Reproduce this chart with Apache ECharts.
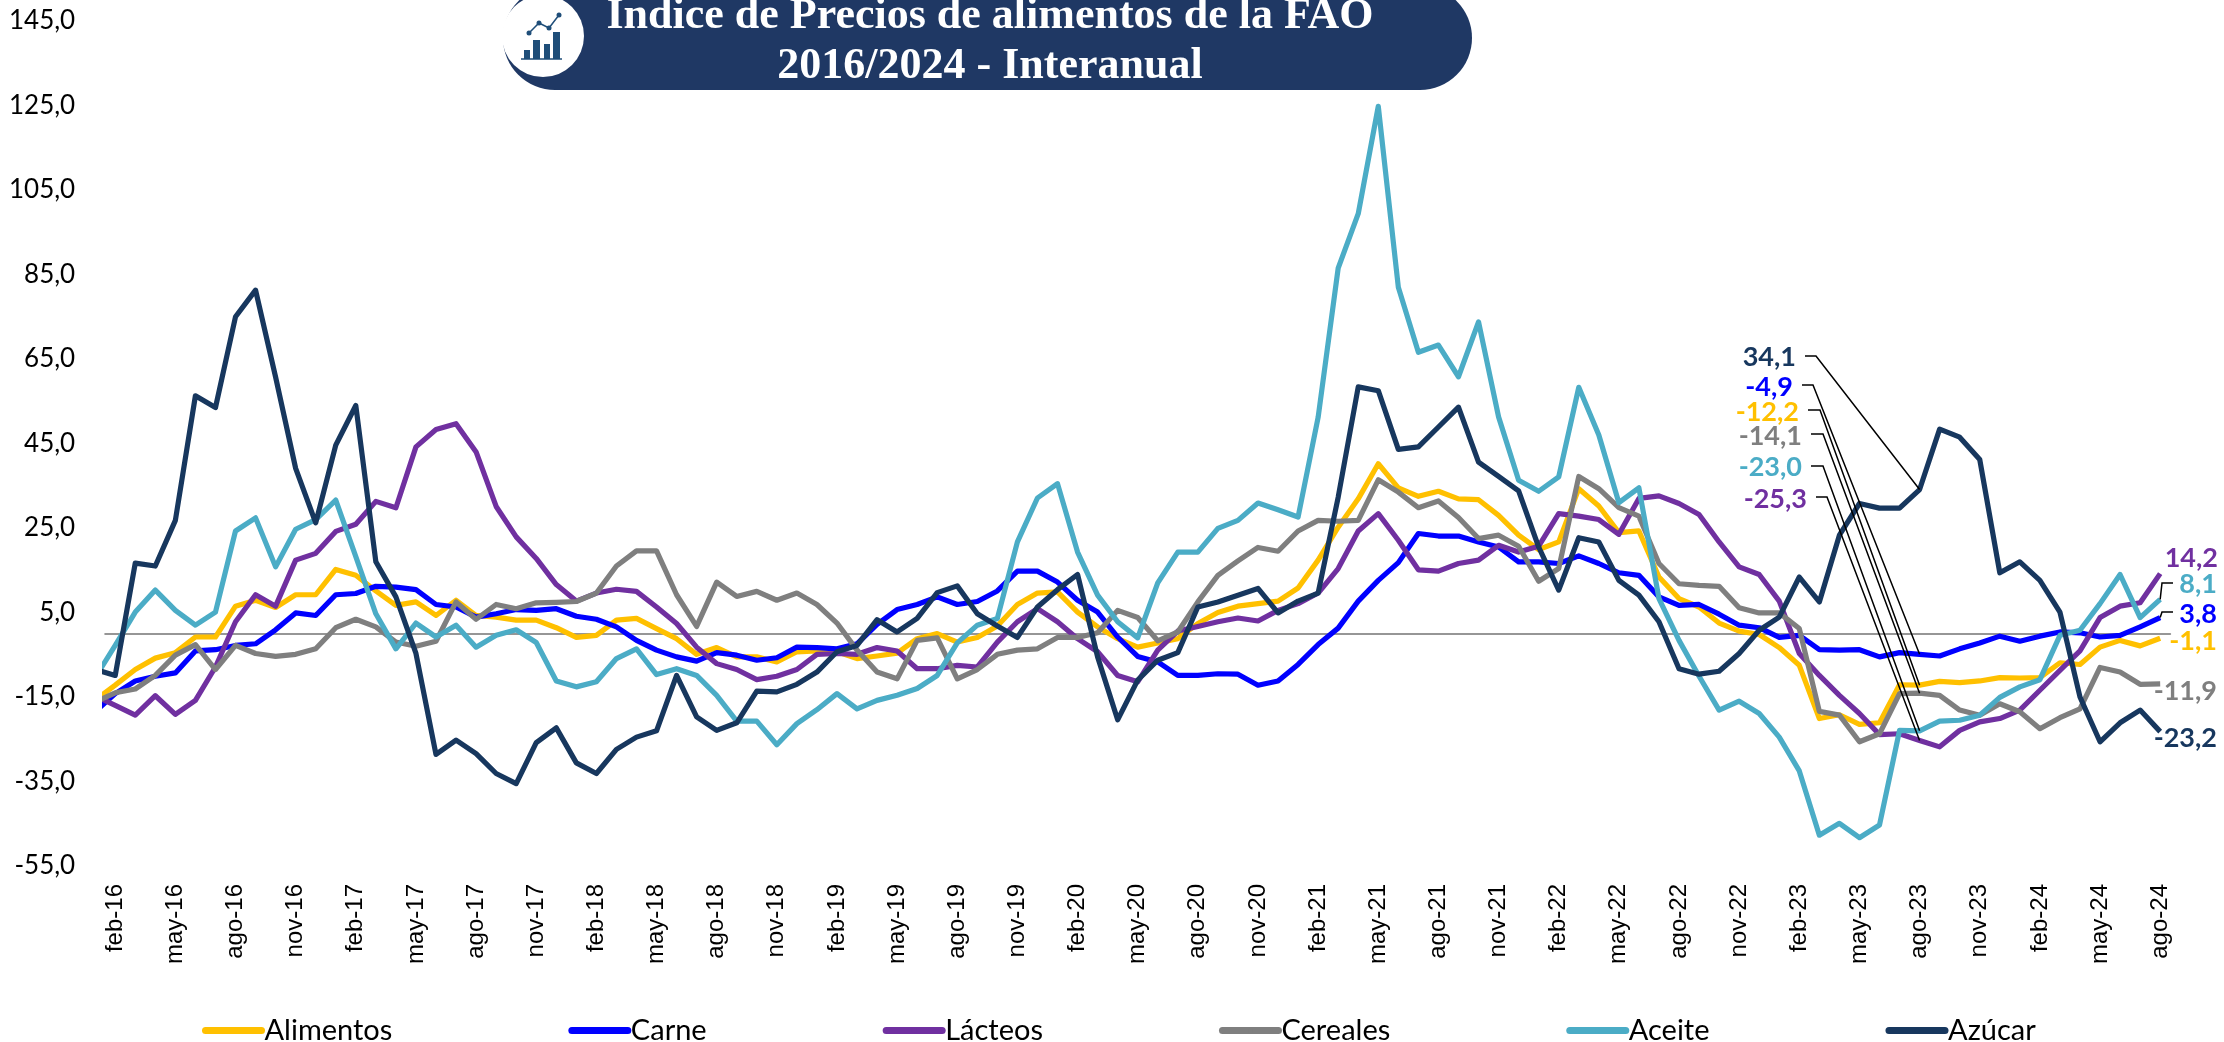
<!DOCTYPE html>
<html>
<head>
<meta charset="utf-8">
<title>Indice de Precios de alimentos de la FAO</title>
<script src="https://cdn.jsdelivr.net/npm/echarts@6/dist/echarts.min.js"></script>
<style>
  html, body { margin: 0; padding: 0; background: #fff; }
  #chart { width: 2224px; height: 1042px; }
</style>
</head>
<body>
<div id="chart"></div>
<script>
// meses: el primero (ene-16) queda cortado por el borde izquierdo del gráfico
var months = ['ene-16',
  'feb-16','mar-16','abr-16','may-16','jun-16','jul-16','ago-16','sep-16','oct-16','nov-16','dic-16',
  'ene-17','feb-17','mar-17','abr-17','may-17','jun-17','jul-17','ago-17','sep-17','oct-17','nov-17','dic-17',
  'ene-18','feb-18','mar-18','abr-18','may-18','jun-18','jul-18','ago-18','sep-18','oct-18','nov-18','dic-18',
  'ene-19','feb-19','mar-19','abr-19','may-19','jun-19','jul-19','ago-19','sep-19','oct-19','nov-19','dic-19',
  'ene-20','feb-20','mar-20','abr-20','may-20','jun-20','jul-20','ago-20','sep-20','oct-20','nov-20','dic-20',
  'ene-21','feb-21','mar-21','abr-21','may-21','jun-21','jul-21','ago-21','sep-21','oct-21','nov-21','dic-21',
  'ene-22','feb-22','mar-22','abr-22','may-22','jun-22','jul-22','ago-22','sep-22','oct-22','nov-22','dic-22',
  'ene-23','feb-23','mar-23','abr-23','may-23','jun-23','jul-23','ago-23','sep-23','oct-23','nov-23','dic-23',
  'ene-24','feb-24','mar-24','abr-24','may-24','jun-24','jul-24','ago-24'];
var monthTicks = [1,4,7,10,13,16,19,22,25,28,31,34,37,40,43,46,49,52,55,58,61,64,67,70,73,76,79,82,85,88,91,94,97,100,103];
var valueTicks = [-55,-35,-15,5,25,45,65,85,105,125,145];

var alimentos = [-15.7,-12.2,-8.5,-5.8,-4.5,-0.8,-0.8,6.5,7.9,6.2,9.2,9.2,15.2,13.8,10.1,6.7,7.5,4.3,7.9,4.3,3.9,3.2,3.2,1.4,-0.9,-0.4,3.2,
  3.6,1.2,-1.2,-4.9,-3.3,-5.5,-5.5,-6.7,-4.3,-4.1,-4.3,-5.9,-5.3,-4.6,-1.2,0,-2,-0.9,1.8,6.9,9.6,9.9,5.1,1.6,-1.2,-3.2,
  -2.2,-1.2,2.4,5,6.5,7.1,7.7,10.8,17.4,25.2,31.9,40.2,34.5,32.5,33.7,31.9,31.7,28,23.3,19.9,21.7,34.3,30.2,23.9,24.3,13.4,
  8.3,6.3,2.5,0.6,-0.2,-3.3,-7.5,-20.1,-19.2,-21.5,-21.1,-12.1,-12.2,-11.3,-11.6,-11.2,-10.4,-10.5,-10.4,-6.9,-7.3,-3.2,-1.6,-2.9,-1.1];
var carne = [-18.5,-14.2,-11.2,-10.1,-9.3,-4.1,-3.8,-2.8,-2.4,0.9,4.9,4.3,9.2,9.5,11.2,11,10.4,6.9,6.3,3.9,4.7,5.7,5.5,5.9,4.1,3.4,1.6,
  -1.6,-3.9,-5.5,-6.5,-4.5,-5.1,-6.3,-5.7,-3.2,-3.3,-3.6,-2.4,2.2,5.7,6.9,8.7,6.9,7.6,10.1,14.8,14.8,12.2,7.9,5.1,-0.8,-5.4,
  -6.7,-9.9,-9.9,-9.5,-9.6,-12.2,-11.2,-7.3,-2.6,1.3,7.7,12.6,16.8,23.7,23.1,23.1,21.7,20.5,17,17,16.6,18.4,16.6,14.4,13.8,8.7,
  6.7,6.9,4.6,2,1.4,-0.9,-0.4,-3.8,-3.9,-3.8,-5.5,-4.5,-4.9,-5.3,-3.6,-2.2,-0.6,-1.8,-0.6,0.4,0.2,-0.8,-0.4,1.6,3.8];
var lacteos = [-14.7,-17,-19.3,-14.7,-19.1,-15.8,-7.9,2.8,9.2,6.5,17.4,19,24.2,25.9,31.3,29.8,44.2,48.3,49.7,43,30.1,22.9,17.8,11.6,7.7,9.6,10.5,
  10,6.3,2.4,-3.2,-7.1,-8.5,-10.9,-10.1,-8.5,-4.9,-4.7,-4.9,-3.3,-4.1,-8.3,-8.3,-7.5,-7.9,-2,2.8,5.9,2.8,-1.2,-4.3,-9.9,-11.4,
  -3.9,0.6,1.7,2.8,3.7,3,5.5,7.1,9.6,15.4,24.3,28.4,22.1,15.1,14.8,16.6,17.4,20.9,19.3,20.7,28.4,27.8,27,23.5,32,32.6,
  30.8,28.2,21.7,15.8,14,7.7,-4.7,-9.9,-14.6,-18.9,-23.9,-23.7,-25.3,-26.8,-22.9,-20.9,-20.1,-18.1,-13.4,-8.7,-4.1,3.8,6.5,7.3,14.2];
var cereales = [-16.2,-14,-13.1,-9.9,-5.1,-2.6,-8.5,-2.8,-4.7,-5.4,-4.9,-3.6,1.4,3.4,1.6,-2,-3,-1.8,7.5,3.4,6.9,5.9,7.3,7.4,7.6,9.6,16,
  19.6,19.6,9.2,1.7,12.2,8.8,10,7.9,9.6,6.9,2.5,-3.9,-9.1,-10.7,-1.6,-1,-10.7,-8.5,-4.9,-3.9,-3.6,-0.9,-0.9,0.2,5.5,3.8,
  -1.7,0.4,7.5,13.8,17.2,20.4,19.5,24.3,26.8,26.6,26.8,36.4,33.5,29.8,31.4,27.5,22.5,23.3,20.7,12.4,15.4,37.2,34.3,29.8,27.8,16.6,
  11.8,11.4,11.2,6.1,4.9,4.9,1.2,-18.4,-19.3,-25.6,-23.7,-14.2,-14.1,-14.6,-18.1,-19.3,-16.6,-18.5,-22.5,-19.9,-17.8,-8,-9.1,-12,-11.9];
var aceite = [-10.4,-2.8,5.1,10.3,5.5,2,5.1,24.3,27.4,15.8,24.7,27,31.6,18.2,4.7,-3.6,2.5,-0.8,2,-3.2,-0.4,0.9,-2.1,-11.2,-12.6,-11.4,-5.9,
  -3.6,-9.7,-8.3,-9.9,-14.6,-20.7,-20.7,-26.3,-21.3,-18,-14.2,-17.8,-15.8,-14.6,-13,-9.9,-2.2,2,3.6,21.7,32.1,35.5,19.3,9.1,2.8,-1,
  12,19.3,19.3,24.9,26.8,30.9,29.3,27.6,51.2,86.5,99.4,124.8,82,66.6,68.3,60.8,73.8,51.3,36.3,33.7,37.1,58.3,47,31,34.5,8.3,
  -1.6,-10.1,-18.1,-16,-18.9,-24.5,-32.5,-47.7,-44.9,-48.3,-45.3,-22.9,-23,-20.7,-20.5,-19.3,-15.1,-12.6,-10.9,-0.4,0.8,7.1,14,3.8,8.1];
var azucar = [-8.5,-9.9,16.7,16,26.8,56.3,53.5,75,81.3,60.7,39.1,26.2,44.6,54,17,8.7,-4.7,-28.6,-25.2,-28.4,-33.1,-35.5,-25.8,-22.3,-30.6,-33.1,-27.4,
  -24.5,-23,-9.9,-19.7,-22.9,-21.1,-13.6,-13.8,-12,-9.1,-4.3,-2.8,3.3,0.4,3.6,9.7,11.3,4.7,1.8,-0.9,6.3,10.4,14,-5.5,-20.4,-11,
  -6.3,-4.5,6.3,7.5,9.1,10.7,4.9,7.7,9.6,32.3,58.4,57.5,43.6,44.2,48.9,53.6,40.6,37.2,33.8,20.5,10.3,22.7,21.7,12.6,9.1,2.8,
  -8.3,-9.6,-8.9,-4.7,0.8,3.9,13.4,7.5,23.3,30.8,29.7,29.7,34.1,48.4,46.5,41.2,14.4,17,12.6,5.1,-15,-25.6,-21.1,-18.1,-23.2];

var names = ['Alimentos', 'Carne', 'Lácteos', 'Cereales', 'Aceite', 'Azúcar'];
var values = [alimentos, carne, lacteos, cereales, aceite, azucar];
var colors = ['#FFC000', '#0000FF', '#7030A0', '#7F7F7F', '#4BACC6', '#17375E'];

var agoIdx = months.indexOf('ago-23');
var lastIdx = months.length - 1;

// donde va cada etiqueta: x derecha, y centro (por serie)
var labelAgo = [[1799, 412], [1793, 387], [1807, 499], [1802, 436], [1802, 467], [1796, 357]];
var labelLast = [[2217, 641], [2217, 614], [2218, 558], [2217, 691], [2217, 584], [2217, 738]];
// guías: de la etiqueta al punto
var leaders = [
  { s: 5, idx: agoIdx, path: [[1805, 356], [1816, 356]] },
  { s: 1, idx: agoIdx, path: [[1802, 385], [1813, 385]] },
  { s: 0, idx: agoIdx, path: [[1808, 410], [1820, 410]] },
  { s: 3, idx: agoIdx, path: [[1811, 434], [1823, 434]] },
  { s: 4, idx: agoIdx, path: [[1811, 466], [1823, 466]] },
  { s: 2, idx: agoIdx, path: [[1816, 497], [1827, 497]] },
  { s: 4, idx: lastIdx, path: [[2173, 583], [2162, 583]] },
  { s: 1, idx: lastIdx, path: [[2173, 612], [2162, 612]] }
];

function comma(v) {
  return v.toFixed(1).replace('.', ',');
}

var series = names.map(function (name, s) {
  return {
    name: name,
    type: 'line',
    symbol: 'none',
    z: 2 + s,
    lineStyle: { color: colors[s], width: 5.2, join: 'round' },
    itemStyle: { color: colors[s] },
    emphasis: { disabled: true },
    data: values[s].map(function (v, i) {
      var item = { value: [i, v] };
      if (i === agoIdx || i === lastIdx) {
        // punto invisible, solo para sostener la etiqueta
        item.symbol = 'circle';
        item.symbolSize = 0;
        item.label = {
          show: true,
          color: colors[s],
          fontFamily: 'Lato',
          fontWeight: 'bold',
          fontSize: 27,
          formatter: comma(v)
        };
      }
      return item;
    }),
    labelLayout: function (params) {
      var p = params.dataIndex === agoIdx ? labelAgo[s] : labelLast[s];
      return { x: p[0], y: p[1], align: 'right', verticalAlign: 'middle' };
    }
  };
});

var myChart = echarts.init(document.getElementById('chart'));

var option = {
  animation: false,
  backgroundColor: '#ffffff',
  title: {
    text: 'Indice de Precios de alimentos de la FAO\n2016/2024 - Interanual',
    left: 985,
    top: -13,
    textAlign: 'center',
    textStyle: {
      color: '#ffffff',
      fontFamily: 'Liberation Serif',
      fontWeight: 'bold',
      fontSize: 44,
      lineHeight: 50
    }
  },
  legend: {
    data: names,
    left: 197,
    top: 1011,
    itemWidth: 56,
    itemHeight: 6,
    itemGap: 176,
    lineStyle: { width: 7, cap: 'round' },
    textStyle: { fontFamily: 'Lato', fontSize: 29, color: '#000000', padding: [0, 0, 0, -2] }
  },
  grid: { left: 105.2, right: 53.8, top: 21, bottom: 176 },
  xAxis: [
    {
      type: 'value',
      min: 0.5,
      max: 103.5,
      axisLine: { show: false, onZero: false },
      axisTick: { show: false },
      splitLine: { show: false },
      axisLabel: {
        customValues: monthTicks,
        rotate: 90,
        margin: 18,
        color: '#000000',
        fontFamily: 'Liberation Sans',
        fontSize: 24,
        formatter: function (v) { return months[v]; }
      }
    },
    {
      type: 'value',
      min: 0.5,
      max: 103.5,
      axisLine: { show: true, onZero: true, lineStyle: { color: '#969696', width: 2 } },
      axisTick: { show: false },
      splitLine: { show: false },
      axisLabel: { show: false }
    }
  ],
  yAxis: {
    type: 'value',
    min: -55,
    max: 145,
    axisLine: { show: false },
    axisTick: { show: false },
    splitLine: { show: false },
    axisLabel: {
      customValues: valueTicks,
      margin: 30,
      color: '#000000',
      fontFamily: 'Lato',
      fontSize: 26,
      formatter: comma
    }
  },
  series: series,
  graphic: [
    { type: 'rect', z: 1, shape: { x: 503, y: -14, width: 969, height: 104, r: 52 }, style: { fill: '#1F3864' } },
    { type: 'circle', z: 1, shape: { cx: 543, cy: 36, r: 41 }, style: { fill: '#ffffff' } },
    { type: 'rect', z: 1, shape: { x: 524, y: 50, width: 6, height: 9 }, style: { fill: '#1F4E79' } },
    { type: 'rect', z: 1, shape: { x: 533, y: 40, width: 7, height: 19 }, style: { fill: '#1F4E79' } },
    { type: 'rect', z: 1, shape: { x: 544, y: 44, width: 6, height: 15 }, style: { fill: '#1F4E79' } },
    { type: 'rect', z: 1, shape: { x: 553, y: 32, width: 7, height: 27 }, style: { fill: '#1F4E79' } },
    { type: 'line', z: 1, shape: { x1: 521, y1: 59, x2: 562, y2: 59 }, style: { stroke: '#1F4E79', lineWidth: 1.5 } },
    { type: 'polyline', z: 1, shape: { points: [[529, 33], [539, 23], [549, 28], [559, 15]] }, style: { stroke: '#1F4E79', fill: null, lineWidth: 1.5 } },
    { type: 'circle', z: 1, shape: { cx: 529, cy: 33, r: 2.5 }, style: { fill: '#1F4E79' } },
    { type: 'circle', z: 1, shape: { cx: 539, cy: 23, r: 2.5 }, style: { fill: '#1F4E79' } },
    { type: 'circle', z: 1, shape: { cx: 549, cy: 28, r: 2.5 }, style: { fill: '#1F4E79' } },
    { type: 'circle', z: 1, shape: { cx: 559, cy: 15, r: 2.5 }, style: { fill: '#1F4E79' } }
  ]
};

myChart.setOption(option);

// guías de las etiquetas, ancladas al punto real de cada serie
var leaderLines = leaders.map(function (d) {
  var end = myChart.convertToPixel({ xAxisIndex: 0, yAxisIndex: 0 }, [d.idx, values[d.s][d.idx]]);
  return {
    type: 'polyline',
    z: 20,
    shape: { points: d.path.concat([end]) },
    style: { stroke: '#000000', fill: null, lineWidth: 1.5 }
  };
});
myChart.setOption({ graphic: option.graphic.concat(leaderLines) });
</script>
</body>
</html>
